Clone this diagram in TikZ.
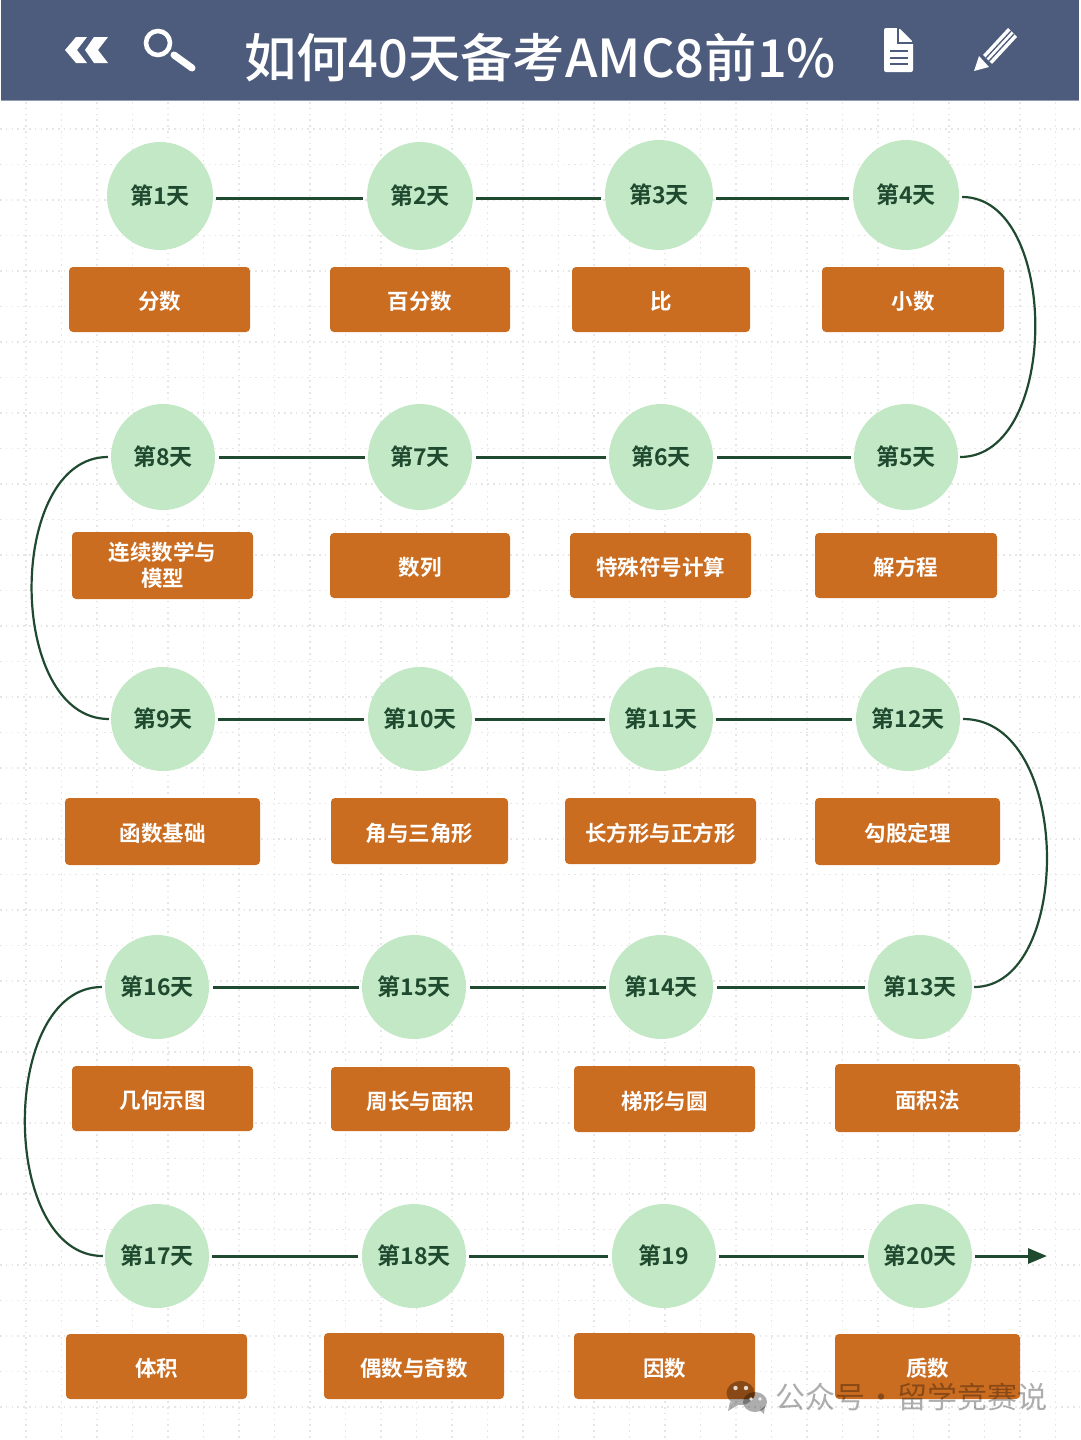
\documentclass[tikz,border=0pt]{standalone}
\usepackage{fontspec}
\setmainfont{Noto Sans CJK SC}[BoldFont={Noto Sans CJK SC Bold}]
\newfontfamily\titlefont{Noto Sans CJK SC Medium}
\usetikzlibrary{shapes.geometric,arrows.meta}
\definecolor{hdr}{HTML}{4D5C7C}
\definecolor{boxc}{HTML}{CB6D21}
\definecolor{circc}{HTML}{C3E8C5}
\definecolor{ink}{HTML}{1F4A2F}
\definecolor{gridc}{HTML}{E6E6E6}
\tikzset{
  gridline/.style={gridc,line width=1.3pt,dash pattern=on 1.6pt off 4.2pt},
  daynode/.style={ellipse,fill=circc,inner sep=0pt,text=ink,font=\fontsize{23}{26}\selectfont\bfseries},
  topicbox/.style={rectangle,rounded corners=4pt,fill=boxc,inner sep=0pt,text=white,align=center,font=\fontsize{21.5}{26}\selectfont\bfseries,execute at begin node=\rule{0pt}{22.5pt}},
  straightlink/.style={ink,line width=3pt,shorten >=4pt,shorten <=3pt},
  curvelink/.style={ink,line width=2.2pt,shorten >=2pt,shorten <=3pt},
  iconline/.style={hdr,line width=2pt},
}
\begin{document}
\begin{tikzpicture}[x=1pt,y=-1pt]
\useasboundingbox (0,0) rectangle (1080,1440);
\fill[white] (0,0) rectangle (1080,1440);
% grid
\foreach \gx in {0,...,29} {\draw[gridline] ({26+35.5*\gx},102) -- ({26+35.5*\gx},1440);}
\foreach \gy in {0,...,36} {\draw[gridline] (0,{129+35.5*\gy}) -- (1080,{129+35.5*\gy});}
% header
\fill[hdr] (1,0) rectangle (1079,100);
\draw[hdr!60!white,line width=1pt] (1,100.5) -- (1079,100.5);
\node[text=white,inner sep=0pt,font=\titlefont\fontsize{52.3}{60}\selectfont] (title) at (540,58) {如何40天备考AMC8前1\%};
% back chevrons
\fill[white] (65,50) -- (76,37) -- (87,37) -- (77,50) -- (87,63) -- (76,63) -- cycle;
\fill[white] (85,50) -- (94,37) -- (108,37) -- (98,50) -- (108,63) -- (94,63) -- cycle;
% search
\draw[white,line width=4.6pt] (158,43) circle (12);
\draw[white,line width=7pt,line cap=round] (174,55) -- (192,68);
% document
\fill[white,rounded corners=2pt] (884,28) -- (899,28) -- (913,42) -- (913,72) -- (884,72) -- cycle;
\draw[iconline,line width=1.6pt] (898,27) -- (898,43) -- (914,43);
\foreach \by in {51,57.5,64} {\draw[iconline] (890,\by) -- (908,\by);}
% pencil
\fill[white] (1008,28) -- (1017,37) -- (992,64) -- (983,55) -- cycle;
\draw[hdr,line width=1.3pt] (1011,31) -- (986,58);
\draw[hdr,line width=1.3pt] (1014,34) -- (989,61);
\fill[white] (979,56) -- (989,67) -- (974,71) -- cycle;
% topic boxes
\foreach \nm/\xa/\xb/\ya/\yb/\txt in {
 b1/69/250/267/332/分数, b2/330/510/267/332/百分数, b3/572/750/267/332/比, b4/822/1004/267/332/小数,
 b8/72/253/532/599/{连续数学与\\模型}, b7/330/510/533/598/数列, b6/570/751/533/598/特殊符号计算, b5/815/997/533/598/解方程,
 b9/65/260/798/865/函数基础, b10/331/508/798/864/角与三角形, b11/565/756/798/864/长方形与正方形, b12/815/1000/798/865/勾股定理,
 b16/72/253/1066/1131/几何示图, b15/331/510/1067/1131/周长与面积, b14/574/755/1066/1132/梯形与圆, b13/835/1020/1064/1132/面积法,
 b17/66/247/1334/1399/体积, b18/324/504/1333/1399/偶数与奇数, b19/574/755/1333/1399/因数, b20/835/1020/1334/1399/质数} {
  \pgfmathsetmacro{\bw}{\xb-\xa}
  \pgfmathsetmacro{\bh}{\yb-\ya}
  \node[topicbox,minimum width=\bw pt,minimum height=\bh pt] (\nm) at ({(\xa+\xb)/2},{(\ya+\yb)/2}) {\txt};
}
% day nodes
\foreach \nm/\cx/\cy/\dw/\dh/\txt in {
 d1/160/196/106/108/第1天, d2/420/196/106/108/第2天, d3/659/195/108/110/第3天, d4/906/195/106/110/第4天,
 d5/906/457/104/106/第5天, d6/661/457/104/106/第6天, d7/420/457/104/106/第7天, d8/163/457/104/106/第8天,
 d9/163/719/104/104/第9天, d10/420/719/104/104/第10天, d11/661/719/104/104/第11天, d12/908/719/104/104/第12天,
 d13/920/987/104/104/第13天, d14/661/987/104/104/第14天, d15/414/987/104/104/第15天, d16/157/987/104/104/第16天,
 d17/157/1256/104/104/第17天, d18/414/1256/104/104/第18天, d19/664/1256/104/104/第19, d20/920/1256/104/104/第20天} {
  \node[daynode,minimum width=\dw pt,minimum height=\dh pt] (\nm) at (\cx,\cy) {\txt};
}
% straight links: the first row runs a little below the circle centres
\draw[straightlink] ([yshift=-2pt]d1.east) -- ([yshift=-2pt]d2.west);
\draw[straightlink] ([yshift=-2pt]d2.east) -- ([yshift=-3pt]d3.west);
\draw[straightlink] ([yshift=-3pt]d3.east) -- ([yshift=-3pt]d4.west);
\foreach \pa/\pb in {d5/d6,d6/d7,d7/d8,d9/d10,d10/d11,d11/d12,d13/d14,d14/d15,d15/d16,d17/d18,d18/d19,d19/d20} {
  \draw[straightlink] (\pa) -- (\pb);
}
% curved links
\draw[curvelink] ([yshift=-2pt]d4.east) .. controls (1060,197) and (1060,457) .. (d5.east);
\draw[curvelink] (d8.west) .. controls (6,457) and (6,719) .. (d9.west);
\draw[curvelink] (d12.east) .. controls (1073,719) and (1073,987) .. (d13.east);
\draw[curvelink] (d16.west) .. controls (-1,987) and (-1,1256) .. (d17.west);
% end arrow
\coordinate (arrowend) at (1047,1256);
\draw[ink,line width=3pt,shorten <=3pt,-{Triangle[length=19pt,width=15pt]}] (d20.east) -- (arrowend);
% watermark
\begin{scope}[fill opacity=0.32,text opacity=0.32]
\fill[black] (740.5,1393) ellipse (14 and 12);
\fill[black] (730,1402) -- (728,1411) -- (738,1405) -- cycle;
\fill[black] (755,1402) ellipse (12 and 10);
\fill[black] (760,1410) -- (764,1414) -- (765,1406) -- cycle;
\node[inner sep=0pt,text=black,anchor=west,font=\fontsize{30}{32}\selectfont] (mark) at (775,1397) {公众号{\kern1pt}·{\kern1pt}留学竞赛说};
\end{scope}
\fill[white,opacity=.8] (735.5,1388) circle (2.2) (746,1388) circle (2.2) (751,1399) circle (1.8) (760,1399) circle (1.8);
\end{tikzpicture}
\end{document}
